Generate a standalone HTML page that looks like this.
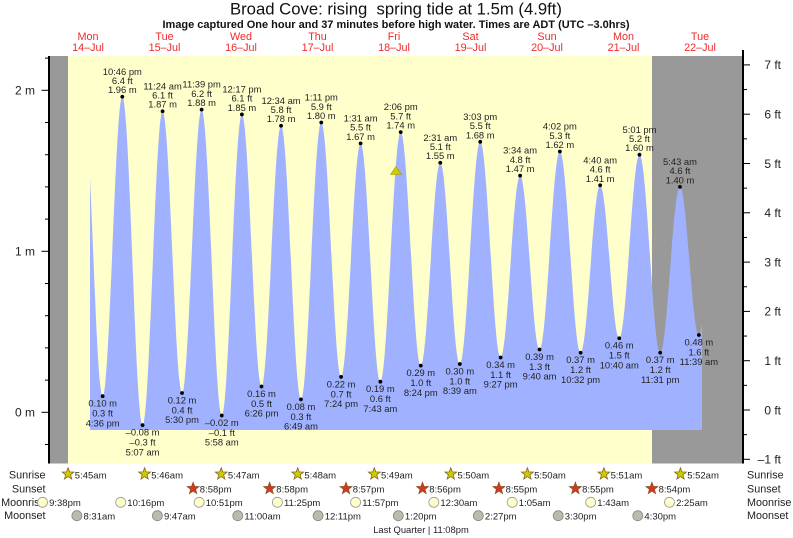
<!DOCTYPE html>
<html><head><meta charset="utf-8"><style>
html,body{margin:0;padding:0;background:#fff;}
svg{display:block;}
text{font-family:"Liberation Sans",Arial,sans-serif;}
</style></head><body>
<svg width="793" height="538" viewBox="0 0 793 538" xmlns="http://www.w3.org/2000/svg">
<defs>
<clipPath id="cp"><rect x="90" y="0" width="612" height="538"/></clipPath>
<polygon id="star" points="0,-6.2 1.53,-2.1 5.9,-1.92 2.47,0.8 3.64,5.02 0,2.6 -3.64,5.02 -2.47,0.8 -5.9,-1.92 -1.53,-2.1"/>
</defs>
<rect width="793" height="538" fill="#fff"/>
<!-- title -->
<text x="396" y="14.5" font-size="16.7" fill="#111" text-anchor="middle" textLength="332" lengthAdjust="spacingAndGlyphs">Broad Cove: rising&#160; spring tide at 1.5m (4.9ft)</text>
<text x="396" y="28" font-size="11" font-weight="bold" fill="#111" text-anchor="middle" textLength="467" lengthAdjust="spacingAndGlyphs">Image captured One hour and 37 minutes before high water. Times are ADT (UTC –3.0hrs)</text>
<!-- day labels -->
<g font-size="10.8" fill="#ee2a2a" text-anchor="middle">
<text x="88" y="40">Mon</text><text x="88" y="51">14–Jul</text>
<text x="164.5" y="40">Tue</text><text x="164.5" y="51">15–Jul</text>
<text x="241" y="40">Wed</text><text x="241" y="51">16–Jul</text>
<text x="317.5" y="40">Thu</text><text x="317.5" y="51">17–Jul</text>
<text x="394" y="40">Fri</text><text x="394" y="51">18–Jul</text>
<text x="470.5" y="40">Sat</text><text x="470.5" y="51">19–Jul</text>
<text x="547" y="40">Sun</text><text x="547" y="51">20–Jul</text>
<text x="623.5" y="40">Mon</text><text x="623.5" y="51">21–Jul</text>
<text x="700" y="40">Tue</text><text x="700" y="51">22–Jul</text>
</g>
<!-- plot background -->
<rect x="50" y="56" width="18" height="407.5" fill="#999"/>
<rect x="68" y="56" width="584" height="407.5" fill="#ffffcc"/>
<rect x="652" y="56" width="90" height="407.5" fill="#999"/>
<!-- tide fill -->
<path clip-path="url(#cp)" fill="#a0b2ff" d="M82.9,90.3
C90.09,90.3 95.47,396.2 102.66,396.2
C109.82,396.2 115.16,96.74 122.32,96.74
C129.69,96.74 135.19,425.18 142.56,425.18
C149.85,425.18 155.3,111.23 162.59,111.23
C169.67,111.23 174.95,392.98 182.03,392.98
C189.16,392.98 194.5,109.62 201.63,109.62
C208.96,109.62 214.44,415.52 221.77,415.52
C229.1,415.52 234.57,114.45 241.9,114.45
C249.04,114.45 254.37,386.54 261.51,386.54
C268.63,386.54 273.94,125.72 281.06,125.72
C288.31,125.72 293.73,399.42 300.98,399.42
C308.37,399.42 313.88,122.5 321.27,122.5
C328.48,122.5 333.88,376.88 341.09,376.88
C348.19,376.88 353.49,143.43 360.59,143.43
C367.78,143.43 373.16,381.71 380.35,381.71
C387.75,381.71 393.29,132.16 400.69,132.16
C408,132.16 413.47,365.61 420.78,365.61
C427.87,365.61 433.18,162.75 440.27,162.75
C447.39,162.75 452.7,364 459.82,364
C467.25,364 472.79,141.82 480.22,141.82
C487.65,141.82 493.19,357.56 500.62,357.56
C507.72,357.56 513.02,175.63 520.12,175.63
C527.2,175.63 532.48,349.51 539.56,349.51
C546.95,349.51 552.47,151.48 559.86,151.48
C567.4,151.48 573.03,352.73 580.57,352.73
C587.69,352.73 593.01,185.29 600.13,185.29
C607.09,185.29 612.29,338.24 619.25,338.24
C626.62,338.24 632.12,154.7 639.49,154.7
C647.03,154.7 652.67,352.73 660.21,352.73
C667.4,352.73 672.78,186.9 679.97,186.9
C686.85,186.9 692,335.02 698.88,335.02
C706.08,335.02 711.45,151.48 718.65,151.48
L718.65,430 L82.9,430 Z"/>
<!-- axes -->
<rect x="48" y="56" width="2" height="407.5" fill="#000"/>
<rect x="742" y="50" width="2" height="413.5" fill="#000"/>
<g stroke="#000" stroke-width="1">
<line x1="41.5" y1="90.3" x2="48" y2="90.3"/>
<line x1="41.5" y1="251.3" x2="48" y2="251.3"/>
<line x1="41.5" y1="412.3" x2="48" y2="412.3"/>
<line x1="45" y1="58.1" x2="48" y2="58.1"/>
<line x1="45" y1="122.5" x2="48" y2="122.5"/>
<line x1="45" y1="154.7" x2="48" y2="154.7"/>
<line x1="45" y1="186.9" x2="48" y2="186.9"/>
<line x1="45" y1="219.1" x2="48" y2="219.1"/>
<line x1="45" y1="283.5" x2="48" y2="283.5"/>
<line x1="45" y1="315.7" x2="48" y2="315.7"/>
<line x1="45" y1="347.9" x2="48" y2="347.9"/>
<line x1="45" y1="380.1" x2="48" y2="380.1"/>
<line x1="45" y1="444.5" x2="48" y2="444.5"/>
<line x1="744" y1="64.9" x2="750" y2="64.9"/>
<line x1="744" y1="114.2" x2="750" y2="114.2"/>
<line x1="744" y1="163.5" x2="750" y2="163.5"/>
<line x1="744" y1="212.8" x2="750" y2="212.8"/>
<line x1="744" y1="262.1" x2="750" y2="262.1"/>
<line x1="744" y1="311.4" x2="750" y2="311.4"/>
<line x1="744" y1="360.7" x2="750" y2="360.7"/>
<line x1="744" y1="410" x2="750" y2="410"/>
<line x1="744" y1="459.3" x2="750" y2="459.3"/>
<line x1="744" y1="89.55" x2="747" y2="89.55"/>
<line x1="744" y1="138.85" x2="747" y2="138.85"/>
<line x1="744" y1="188.15" x2="747" y2="188.15"/>
<line x1="744" y1="237.45" x2="747" y2="237.45"/>
<line x1="744" y1="286.75" x2="747" y2="286.75"/>
<line x1="744" y1="336.05" x2="747" y2="336.05"/>
<line x1="744" y1="385.35" x2="747" y2="385.35"/>
<line x1="744" y1="434.65" x2="747" y2="434.65"/>
</g>
<g font-size="12" fill="#222" text-anchor="end">
<text x="35" y="94.6">2 m</text>
<text x="35" y="255.6">1 m</text>
<text x="35" y="416.6">0 m</text>
<text x="781" y="69.2">7 ft</text>
<text x="781" y="118.5">6 ft</text>
<text x="781" y="167.8">5 ft</text>
<text x="781" y="217.1">4 ft</text>
<text x="781" y="266.4">3 ft</text>
<text x="781" y="315.7">2 ft</text>
<text x="781" y="365">1 ft</text>
<text x="781" y="414.3">0 ft</text>
<text x="781" y="463.6">–1 ft</text>
</g>
<!-- triangle marker -->
<polygon points="396,166.5 390.5,174.5 401.5,174.5" fill="#cccc00" stroke="#999900" stroke-width="0.6"/>
<!-- dots -->
<g fill="#000">
<circle cx="102.66" cy="396.2" r="1.9"/><circle cx="122.32" cy="96.74" r="1.9"/>
<circle cx="142.56" cy="425.18" r="1.9"/><circle cx="162.59" cy="111.23" r="1.9"/>
<circle cx="182.03" cy="392.98" r="1.9"/><circle cx="201.63" cy="109.62" r="1.9"/>
<circle cx="221.77" cy="415.52" r="1.9"/><circle cx="241.9" cy="114.45" r="1.9"/>
<circle cx="261.51" cy="386.54" r="1.9"/><circle cx="281.06" cy="125.72" r="1.9"/>
<circle cx="300.98" cy="399.42" r="1.9"/><circle cx="321.27" cy="122.5" r="1.9"/>
<circle cx="341.09" cy="376.88" r="1.9"/><circle cx="360.59" cy="143.43" r="1.9"/>
<circle cx="380.35" cy="381.71" r="1.9"/><circle cx="400.69" cy="132.16" r="1.9"/>
<circle cx="420.78" cy="365.61" r="1.9"/><circle cx="440.27" cy="162.75" r="1.9"/>
<circle cx="459.82" cy="364" r="1.9"/><circle cx="480.22" cy="141.82" r="1.9"/>
<circle cx="500.62" cy="357.56" r="1.9"/><circle cx="520.12" cy="175.63" r="1.9"/>
<circle cx="539.56" cy="349.51" r="1.9"/><circle cx="559.86" cy="151.48" r="1.9"/>
<circle cx="580.57" cy="352.73" r="1.9"/><circle cx="600.13" cy="185.29" r="1.9"/>
<circle cx="619.25" cy="338.24" r="1.9"/><circle cx="639.49" cy="154.7" r="1.9"/>
<circle cx="660.21" cy="352.73" r="1.9"/><circle cx="679.97" cy="186.9" r="1.9"/>
<circle cx="698.88" cy="335.02" r="1.9"/>
</g>
<!-- high labels -->
<g font-size="9.4" fill="#222" text-anchor="middle">
<text x="122.32" y="74.8">10:46 pm</text><text x="122.32" y="84">6.4 ft</text><text x="122.32" y="93.2">1.96 m</text>
<text x="162.59" y="89.3">11:24 am</text><text x="162.59" y="98.5">6.1 ft</text><text x="162.59" y="107.7">1.87 m</text>
<text x="201.63" y="87.7">11:39 pm</text><text x="201.63" y="96.9">6.2 ft</text><text x="201.63" y="106.1">1.88 m</text>
<text x="241.9" y="92.5">12:17 pm</text><text x="241.9" y="101.7">6.1 ft</text><text x="241.9" y="110.9">1.85 m</text>
<text x="281.06" y="103.8">12:34 am</text><text x="281.06" y="113">5.8 ft</text><text x="281.06" y="122.2">1.78 m</text>
<text x="321.27" y="100.6">1:11 pm</text><text x="321.27" y="109.8">5.9 ft</text><text x="321.27" y="119">1.80 m</text>
<text x="360.59" y="121.5">1:31 am</text><text x="360.59" y="130.7">5.5 ft</text><text x="360.59" y="139.9">1.67 m</text>
<text x="400.69" y="110.2">2:06 pm</text><text x="400.69" y="119.4">5.7 ft</text><text x="400.69" y="128.6">1.74 m</text>
<text x="440.27" y="140.8">2:31 am</text><text x="440.27" y="150">5.1 ft</text><text x="440.27" y="159.2">1.55 m</text>
<text x="480.22" y="119.9">3:03 pm</text><text x="480.22" y="129.1">5.5 ft</text><text x="480.22" y="138.3">1.68 m</text>
<text x="520.12" y="153.7">3:34 am</text><text x="520.12" y="162.9">4.8 ft</text><text x="520.12" y="172.1">1.47 m</text>
<text x="559.86" y="129.6">4:02 pm</text><text x="559.86" y="138.8">5.3 ft</text><text x="559.86" y="148">1.62 m</text>
<text x="600.13" y="163.4">4:40 am</text><text x="600.13" y="172.6">4.6 ft</text><text x="600.13" y="181.8">1.41 m</text>
<text x="639.49" y="132.8">5:01 pm</text><text x="639.49" y="142">5.2 ft</text><text x="639.49" y="151.2">1.60 m</text>
<text x="679.97" y="165">5:43 am</text><text x="679.97" y="174.2">4.6 ft</text><text x="679.97" y="183.4">1.40 m</text>
</g>
<!-- low labels -->
<g font-size="9.4" fill="#222" text-anchor="middle">
<text x="102.66" y="406.6">0.10 m</text><text x="102.66" y="416.6">0.3 ft</text><text x="102.66" y="426.4">4:36 pm</text>
<text x="142.56" y="435.6">–0.08 m</text><text x="142.56" y="445.6">–0.3 ft</text><text x="142.56" y="455.4">5:07 am</text>
<text x="182.03" y="403.4">0.12 m</text><text x="182.03" y="413.4">0.4 ft</text><text x="182.03" y="423.2">5:30 pm</text>
<text x="221.77" y="425.9">–0.02 m</text><text x="221.77" y="435.9">–0.1 ft</text><text x="221.77" y="445.7">5:58 am</text>
<text x="261.51" y="396.9">0.16 m</text><text x="261.51" y="406.9">0.5 ft</text><text x="261.51" y="416.7">6:26 pm</text>
<text x="300.98" y="409.8">0.08 m</text><text x="300.98" y="419.8">0.3 ft</text><text x="300.98" y="429.6">6:49 am</text>
<text x="341.09" y="387.3">0.22 m</text><text x="341.09" y="397.3">0.7 ft</text><text x="341.09" y="407.1">7:24 pm</text>
<text x="380.35" y="392.1">0.19 m</text><text x="380.35" y="402.1">0.6 ft</text><text x="380.35" y="411.9">7:43 am</text>
<text x="420.78" y="376">0.29 m</text><text x="420.78" y="386">1.0 ft</text><text x="420.78" y="395.8">8:24 pm</text>
<text x="459.82" y="374.4">0.30 m</text><text x="459.82" y="384.4">1.0 ft</text><text x="459.82" y="394.2">8:39 am</text>
<text x="500.62" y="367.9">0.34 m</text><text x="500.62" y="377.9">1.1 ft</text><text x="500.62" y="387.7">9:27 pm</text>
<text x="539.56" y="359.9">0.39 m</text><text x="539.56" y="369.9">1.3 ft</text><text x="539.56" y="379.7">9:40 am</text>
<text x="580.57" y="363.1">0.37 m</text><text x="580.57" y="373.1">1.2 ft</text><text x="580.57" y="382.9">10:32 pm</text>
<text x="619.25" y="348.6">0.46 m</text><text x="619.25" y="358.6">1.5 ft</text><text x="619.25" y="368.4">10:40 am</text>
<text x="660.21" y="363.1">0.37 m</text><text x="660.21" y="373.1">1.2 ft</text><text x="660.21" y="382.9">11:31 pm</text>
<text x="698.88" y="345.4">0.48 m</text><text x="698.88" y="355.4">1.6 ft</text><text x="698.88" y="365.2">11:39 am</text>
</g>
<!-- bottom rows labels -->
<g font-size="10.8" fill="#222">
<text x="45.5" y="478.5" text-anchor="end">Sunrise</text>
<text x="45.5" y="492.3" text-anchor="end">Sunset</text>
<text x="45.5" y="505.8" text-anchor="end">Moonrise</text>
<text x="45.5" y="519.2" text-anchor="end">Moonset</text>
<text x="747" y="478.5">Sunrise</text>
<text x="747" y="492.3">Sunset</text>
<text x="747" y="505.8">Moonrise</text>
<text x="747" y="519.2">Moonset</text>
</g>
<!-- sunrise stars -->
<g fill="#cccc00" stroke="#886622" stroke-width="0.8">
<use href="#star" x="68.1" y="474"/><use href="#star" x="144.6" y="474"/>
<use href="#star" x="221.2" y="474"/><use href="#star" x="297.7" y="474"/>
<use href="#star" x="374.3" y="474"/><use href="#star" x="450.8" y="474"/>
<use href="#star" x="527.4" y="474"/><use href="#star" x="603.9" y="474"/>
<use href="#star" x="680.5" y="474"/>
</g>
<g fill="#dd3322" stroke="#885522" stroke-width="0.8">
<use href="#star" x="193.1" y="488.5"/><use href="#star" x="269.6" y="488.5"/>
<use href="#star" x="346" y="488.5"/><use href="#star" x="422.5" y="488.5"/>
<use href="#star" x="498.9" y="488.5"/><use href="#star" x="575.4" y="488.5"/>
<use href="#star" x="651.9" y="488.5"/>
</g>
<g fill="#ffffcc" stroke="#999" stroke-width="0.8">
<circle cx="42.5" cy="502.3" r="5"/><circle cx="120.7" cy="502.3" r="5"/>
<circle cx="199.1" cy="502.3" r="5"/><circle cx="277.4" cy="502.3" r="5"/>
<circle cx="355.6" cy="502.3" r="5"/><circle cx="433.8" cy="502.3" r="5"/>
<circle cx="512.2" cy="502.3" r="5"/><circle cx="590.7" cy="502.3" r="5"/>
<circle cx="669.5" cy="502.3" r="5"/>
</g>
<g fill="#bbbbaa" stroke="#888" stroke-width="0.8">
<circle cx="76.9" cy="515.7" r="5"/><circle cx="157.4" cy="515.7" r="5"/>
<circle cx="237.8" cy="515.7" r="5"/><circle cx="318.1" cy="515.7" r="5"/>
<circle cx="398.3" cy="515.7" r="5"/><circle cx="478.3" cy="515.7" r="5"/>
<circle cx="558.2" cy="515.7" r="5"/><circle cx="637.8" cy="515.7" r="5"/>
</g>
<g font-size="9.5" fill="#222">
<text x="74.8" y="478.5">5:45am</text><text x="151.3" y="478.5">5:46am</text>
<text x="227.9" y="478.5">5:47am</text><text x="304.4" y="478.5">5:48am</text>
<text x="381" y="478.5">5:49am</text><text x="457.5" y="478.5">5:50am</text>
<text x="534.1" y="478.5">5:50am</text><text x="610.6" y="478.5">5:51am</text>
<text x="687.2" y="478.5">5:52am</text>
<text x="199.8" y="492.5">8:58pm</text><text x="276.3" y="492.5">8:58pm</text>
<text x="352.7" y="492.5">8:57pm</text><text x="429.2" y="492.5">8:56pm</text>
<text x="505.6" y="492.5">8:55pm</text><text x="582.1" y="492.5">8:55pm</text>
<text x="658.6" y="492.5">8:54pm</text>
<text x="49.1" y="506">9:38pm</text><text x="127.3" y="506">10:16pm</text>
<text x="205.7" y="506">10:51pm</text><text x="284" y="506">11:25pm</text>
<text x="362.2" y="506">11:57pm</text><text x="440.4" y="506">12:30am</text>
<text x="518.8" y="506">1:05am</text><text x="597.3" y="506">1:43am</text>
<text x="676.1" y="506">2:25am</text>
<text x="83.5" y="519.5">8:31am</text><text x="164" y="519.5">9:47am</text>
<text x="244.4" y="519.5">11:00am</text><text x="324.7" y="519.5">12:11pm</text>
<text x="404.9" y="519.5">1:20pm</text><text x="484.9" y="519.5">2:27pm</text>
<text x="564.8" y="519.5">3:30pm</text><text x="644.4" y="519.5">4:30pm</text>
<text x="421" y="533" text-anchor="middle" font-size="9.4">Last Quarter | 11:08pm</text>
</g>
</svg>
</body></html>
